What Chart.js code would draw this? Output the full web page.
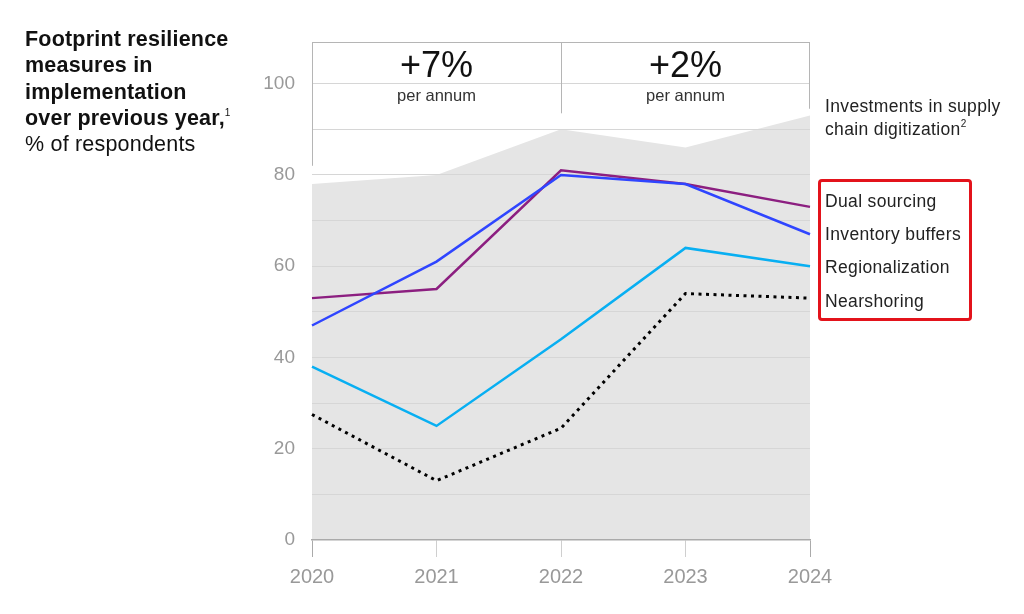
<!DOCTYPE html>
<html>
<head>
<meta charset="utf-8">
<script src="https://cdn.jsdelivr.net/npm/chart.js@4"></script>
<style>
  body { margin: 0; background: #fff; font-family: "Liberation Sans", Arial, sans-serif; }
  #wrap { position: relative; width: 1024px; height: 614px; }
  canvas { position: absolute; left: 0; top: 0; }
  .title { position: absolute; left: 25px; top: 26px; font-size: 21.5px; line-height: 26.3px; color: #111; letter-spacing: 0.2px; }
  .title b { font-weight: bold; }
  .title sup { font-size: 10px; vertical-align: 9px; line-height: 0; }
  .lab { position: absolute; left: 825px; font-size: 17.5px; color: #222; white-space: nowrap; line-height: 23px; letter-spacing: 0.35px; }
  .lab sup { font-size: 10px; vertical-align: 8px; line-height: 0; }
  .redbox { position: absolute; left: 818px; top: 179px; width: 148px; height: 136px; border: 3px solid #e3131b; border-radius: 4px; }
</style>
</head>
<body>
<div id="wrap">
  <canvas id="myChart" width="1024" height="614"></canvas>
  <div class="title"><b>Footprint resilience<br>measures in<br>implementation<br>over previous year,</b><sup>1</sup><br>% of respondents</div>
  <div class="lab" style="top:95px">Investments in supply<br>chain digitization<sup>2</sup></div>
  <div class="redbox"></div>
  <div class="lab" style="top:190px">Dual sourcing</div>
  <div class="lab" style="top:223px">Inventory buffers</div>
  <div class="lab" style="top:256px">Regionalization</div>
  <div class="lab" style="top:290px">Nearshoring</div>
</div>
<script>
let years = ['2020', '2021', '2022', '2023', '2024'];
let digitization = [78, 80, 90, 86, 93];
let dualSourcing = [53, 55, 81, 78, 73];
let inventoryBuffers = [47, 61, 80, 78, 67];
let regionalization = [38, 25, 44, 64, 60];
let nearshoring = [27.5, 13, 24.5, 54, 53];
let growth = ['+7%', '+2%'];

// caja de arriba con las tasas anuales
const boxPlugin = {
    id: 'boxPlugin',
    afterDraw(chart) {
        const c = chart.ctx;
        const x = chart.scales.x;
        const y = chart.scales.y;
        const x0 = x.getPixelForValue(0), x2 = x.getPixelForValue(2), x4 = x.getPixelForValue(4);
        const top = Math.round(y.getPixelForValue(109.2)) + 0.5;
        c.save();
        c.strokeStyle = '#b5b5b5';
        c.lineWidth = 1;
        c.beginPath();
        c.moveTo(x0, top); c.lineTo(x4, top);
        c.moveTo(Math.round(x0) + 0.5, top); c.lineTo(Math.round(x0) + 0.5, y.getPixelForValue(82));
        c.moveTo(Math.round(x2) + 0.5, top); c.lineTo(Math.round(x2) + 0.5, y.getPixelForValue(93.5));
        c.moveTo(Math.round(x4) - 0.5, top); c.lineTo(Math.round(x4) - 0.5, y.getPixelForValue(94.5));
        c.stroke();
        c.textAlign = 'center';
        c.textBaseline = 'middle';
        const mids = [(x0 + x2) / 2, (x2 + x4) / 2];
        for (let i = 0; i < growth.length; i++) {
            c.fillStyle = '#111';
            c.font = '36px "Liberation Sans", Arial, sans-serif';
            c.fillText(growth[i], mids[i], top + 25);
            c.fillStyle = '#333';
            c.font = '16.5px "Liberation Sans", Arial, sans-serif';
            c.fillText('per annum', mids[i], top + 54);
        }
        c.restore();
    }
};

let ctx = document.getElementById('myChart').getContext('2d');
let myChart = new Chart(ctx, {
    type: 'line',
    data: {
        labels: years,
        datasets: [
            {
                label: 'Investments in supply chain digitization',
                data: digitization,
                fill: 'origin',
                backgroundColor: '#e5e5e5',
                borderWidth: 0,
                pointRadius: 0,
                tension: 0,
                order: 10
            },
            {
                label: 'Dual sourcing',
                data: dualSourcing,
                borderColor: '#8c1f80',
                borderWidth: 2.5,
                pointRadius: 0,
                fill: false,
                order: 4
            },
            {
                label: 'Inventory buffers',
                data: inventoryBuffers,
                borderColor: '#2f45ff',
                borderWidth: 2.5,
                pointRadius: 0,
                fill: false,
                order: 3
            },
            {
                label: 'Regionalization',
                data: regionalization,
                borderColor: '#08aff2',
                borderWidth: 2.5,
                pointRadius: 0,
                fill: false,
                order: 2
            },
            {
                label: 'Nearshoring',
                data: nearshoring,
                borderColor: '#000',
                borderWidth: 3,
                borderDash: [3, 4.5],
                pointRadius: 0,
                fill: false,
                order: 1
            }
        ]
    },
    options: {
        responsive: false,
        animation: false,
        layout: { padding: { left: 0, right: 214, top: 38, bottom: 0 } },
        plugins: {
            legend: { display: false },
            tooltip: { enabled: false },
            filler: { drawTime: 'beforeDraw' }
        },
        scales: {
            x: {
                offset: false,
                grid: {
                    drawOnChartArea: false,
                    drawTicks: true,
                    tickLength: 17,
                    tickColor: (c) => (c.index === 0 || c.index === 4) ? '#aaa' : '#cfcfcf'
                },
                border: { display: true, color: '#aaa', width: 1.5 },
                ticks: {
                    color: '#999',
                    padding: 8,
                    maxRotation: 0,
                    font: { family: '"Liberation Sans", Arial, sans-serif', size: 20 }
                },
                afterFit: (s) => { s.height = 74; }
            },
            y: {
                min: 0,
                max: 110,
                ticks: {
                    stepSize: 10,
                    color: '#999',
                    padding: 17,
                    font: { family: '"Liberation Sans", Arial, sans-serif', size: 19 },
                    callback: (v) => (v % 20 === 0 && v <= 100) ? v : ''
                },
                grid: {
                    drawTicks: false,
                    color: (c) => (c.tick.value === 0 || c.tick.value > 100) ? 'rgba(0,0,0,0)' : '#d6d6d6'
                },
                border: { display: false },
                afterFit: (s) => { s.width = 312; }
            }
        }
    },
    plugins: [boxPlugin]
});
</script>
</body>
</html>
